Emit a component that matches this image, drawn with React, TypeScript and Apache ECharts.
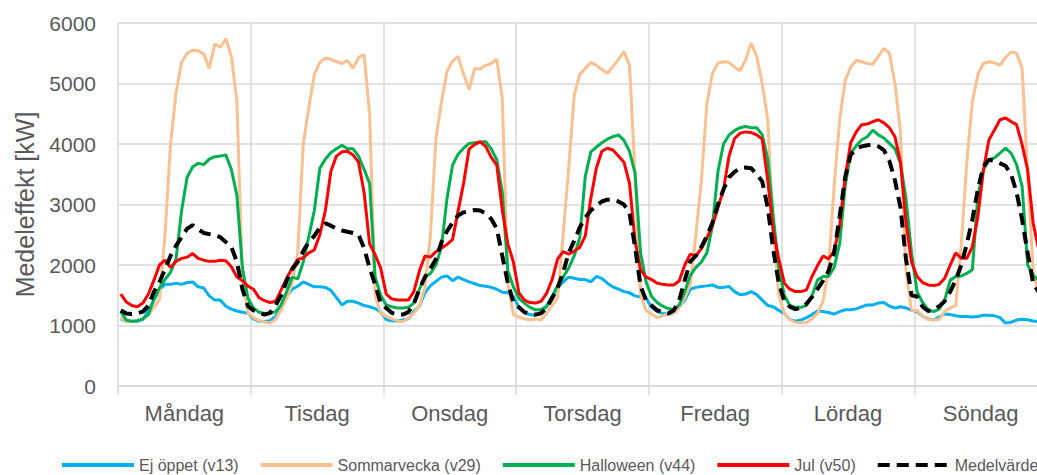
import React, { useEffect, useRef } from "react";
import * as echarts from "echarts";

const days = ["Måndag", "Tisdag", "Onsdag", "Torsdag", "Fredag", "Lördag", "Söndag"];
const yTicks = { min: 0, max: 6000, interval: 1000 };
const hoursPerDay = 24;

// Hourly mean power [kW], Monday 00 .. Sunday 23
const ejOppet = [
  1110, 1070, 1065, 1070, 1100, 1250, 1420, 1590, 1680, 1680, 1700, 1680, 1710, 1720, 1640, 1620, 1490, 1420, 1420, 1320, 1270, 1240, 1220, 1200,
  1110, 1070, 1065, 1080, 1150, 1310, 1480, 1600, 1650, 1720, 1680, 1640, 1640, 1630, 1580, 1460, 1340, 1400, 1400, 1370, 1330, 1310, 1280, 1220,
  1100, 1080, 1075, 1090, 1110, 1230, 1320, 1540, 1660, 1730, 1800, 1820, 1740, 1800, 1760, 1720, 1690, 1660, 1650, 1630, 1600, 1550, 1540, 1480,
  1300, 1210, 1180, 1170, 1220, 1310, 1480, 1620, 1720, 1800, 1780, 1760, 1760, 1720, 1810, 1780, 1700, 1640, 1600, 1560, 1540, 1490, 1470, 1450,
  1300, 1230, 1200, 1190, 1200, 1310, 1420, 1600, 1630, 1645, 1655, 1670, 1630, 1630, 1645, 1560, 1510, 1520, 1560, 1510, 1420, 1330, 1310, 1250,
  1200, 1100, 1070, 1090, 1130, 1180, 1240, 1230, 1215, 1190, 1230, 1260, 1260, 1275, 1310, 1340, 1340, 1370, 1380, 1320, 1290, 1310, 1290, 1250,
  1230, 1150, 1110, 1090, 1140, 1190, 1180, 1160, 1150, 1150, 1140, 1150, 1170, 1170, 1160, 1130, 1040, 1055, 1090, 1105, 1095, 1075, 1065, 1060,
];

const sommarvecka = [
  1130, 1065, 1070, 1080, 1110, 1180, 1300, 1430, 2500, 4000, 4850, 5350, 5500, 5550, 5540, 5490, 5250, 5650, 5600, 5740, 5450, 4700, 1800, 1200,
  1130, 1080, 1060, 1040, 1100, 1260, 1450, 1700, 2200, 4000, 4600, 5150, 5350, 5420, 5400, 5360, 5330, 5380, 5250, 5430, 5480, 4500, 1500, 1200,
  1150, 1110, 1080, 1060, 1120, 1200, 1330, 1620, 2500, 4100, 4700, 5200, 5370, 5450, 5150, 4900, 5250, 5240, 5300, 5330, 5400, 4750, 1700, 1180,
  1140, 1110, 1090, 1110, 1090, 1200, 1330, 1450, 2500, 3600, 4800, 5150, 5250, 5350, 5300, 5230, 5170, 5280, 5400, 5530, 5300, 3500, 1500, 1250,
  1190, 1130, 1160, 1190, 1200, 1300, 1460, 1680, 2500, 3400, 4670, 5170, 5340, 5360, 5350, 5270, 5210, 5390, 5670, 5450, 5000, 4400, 2600, 1500,
  1200, 1100, 1050, 1040, 1050, 1110, 1200, 1400, 1950, 3300, 4400, 5050, 5270, 5380, 5360, 5330, 5320, 5450, 5580, 5500, 5000, 4200, 1900, 1250,
  1250, 1150, 1100, 1090, 1100, 1230, 1290, 1330, 2350, 3700, 4700, 5150, 5330, 5360, 5340, 5300, 5430, 5520, 5500, 5250, 3500, 1900, 1500, 1250,
];

const halloween = [
  1230, 1090, 1070, 1080, 1110, 1180, 1440, 1620, 1760, 1880, 2100, 2900, 3450, 3620, 3680, 3660, 3750, 3790, 3800, 3820, 3580, 3150, 1950, 1450,
  1290, 1220, 1200, 1200, 1230, 1340, 1560, 1800, 1770, 2050, 2470, 2900, 3600, 3750, 3860, 3920, 3980, 3920, 3920, 3800, 3580, 3350, 1800, 1500,
  1340, 1310, 1290, 1290, 1300, 1370, 1600, 1800, 1860, 2000, 2300, 3100, 3650, 3830, 3930, 4010, 4020, 4030, 4040, 3920, 3740, 3200, 1900, 1640,
  1450, 1370, 1300, 1260, 1260, 1320, 1480, 1660, 1800, 1950, 2150, 2450, 3460, 3870, 3950, 4020, 4080, 4120, 4150, 4060, 3880, 3520, 2200, 1720,
  1480, 1380, 1320, 1280, 1265, 1340, 1560, 1830, 1960, 2050, 2200, 2650, 3550, 4000, 4150, 4220, 4270, 4290, 4270, 4270, 4150, 3750, 2800, 1950,
  1500, 1330, 1300, 1300, 1330, 1490, 1750, 1810, 1810, 1960, 2350, 3300, 3850, 3970, 4070, 4120, 4230, 4150, 4100, 4010, 3920, 3680, 3100, 2200,
  1560, 1380, 1260, 1230, 1270, 1420, 1750, 1810, 1820, 1860, 1920, 3150, 3570, 3740, 3770, 3850, 3930, 3850, 3660, 3300, 2000, 1830, 1750, 1650,
];

const jul = [
  1520, 1390, 1330, 1310, 1370, 1520, 1750, 2000, 2080, 1960, 2060, 2110, 2130, 2190, 2110, 2080, 2060, 2060, 2080, 2070, 1970, 1800, 1740, 1650,
  1600, 1460, 1410, 1380, 1400, 1590, 1780, 1950, 2090, 2120, 2200, 2250, 2500, 2900, 3550, 3800, 3870, 3880, 3820, 3700, 3200, 2350, 2170, 1950,
  1520, 1440, 1420, 1420, 1420, 1560, 1900, 2150, 2130, 2220, 2280, 2340, 2420, 2890, 3350, 3920, 3990, 4040, 3960, 3780, 3650, 2900, 2350, 2050,
  1540, 1420, 1380, 1370, 1400, 1530, 1760, 2100, 2220, 2180, 2230, 2290, 2480, 3100, 3600, 3880, 3930, 3900, 3800, 3700, 3350, 2400, 1920, 1800,
  1760, 1700, 1680, 1670, 1670, 1740, 2000, 2180, 2150, 2270, 2450, 2650, 2950, 3250, 3800, 4090, 4180, 4200, 4190, 4150, 4080, 3400, 2550, 2100,
  1700, 1600, 1560, 1560, 1590, 1810, 1990, 2150, 2100, 2230, 2650, 3450, 4020, 4200, 4320, 4330, 4370, 4400, 4350, 4270, 4120, 3700, 2700, 2050,
  1810, 1710, 1670, 1660, 1680, 1780, 2000, 2200, 2110, 2110, 2300, 2800, 3570, 4070, 4230, 4400, 4430, 4370, 4320, 3990, 3570, 2690, 2250, 2000,
];

const medelvarde = [
  1250, 1200, 1190, 1200, 1230, 1330, 1560, 1720, 1930, 2150, 2320, 2460, 2600, 2660, 2590, 2530, 2510, 2490, 2460, 2380, 2300, 2050, 1600, 1320,
  1250, 1210, 1180, 1210, 1330, 1500, 1740, 1930, 2050, 2230, 2380, 2480, 2620, 2690, 2650, 2600, 2570, 2550, 2530, 2500, 2280, 1950, 1680, 1370,
  1290, 1210, 1180, 1180, 1220, 1360, 1600, 1800, 1940, 2100, 2380, 2560, 2700, 2820, 2870, 2890, 2910, 2900, 2850, 2760, 2600, 2150, 1700, 1380,
  1300, 1220, 1190, 1180, 1200, 1290, 1450, 1620, 1880, 2200, 2400, 2620, 2780, 2900, 2980, 3050, 3080, 3080, 3050, 3000, 2860, 2300, 1650, 1420,
  1330, 1250, 1220, 1200, 1250, 1420, 1750, 2060, 2150, 2300, 2480, 2700, 3000, 3250, 3450, 3540, 3600, 3610, 3600, 3500, 3380, 2950, 2250, 1700,
  1400, 1310, 1270, 1290, 1360, 1470, 1600, 1740, 1900, 2200, 2800, 3450, 3820, 3920, 3960, 3980, 3990, 3960, 3900, 3720, 3400, 2950, 2100, 1500,
  1480, 1310, 1240, 1260, 1320, 1400, 1560, 1750, 2000, 2350, 2750, 3250, 3630, 3740, 3720, 3680, 3640, 3500, 3200, 2750, 2200, 1700, 1550, 1400,
];

const seriesDefs = [
  { name: "Ej öppet (v13)", values: ejOppet, color: "#00B0F0", width: 3, dash: "solid" as any },
  { name: "Sommarvecka (v29)", values: sommarvecka, color: "#FAC090", width: 3, dash: "solid" as any },
  { name: "Halloween (v44)", values: halloween, color: "#00B050", width: 3, dash: "solid" as any },
  { name: "Jul (v50)", values: jul, color: "#FF0000", width: 3, dash: "solid" as any },
  { name: "Medelvärde", values: medelvarde, color: "#000000", width: 4, dash: [12, 7] as any },
];

const FONT = "'Liberation Sans', Arial, sans-serif";
const GRID = "#d9d9d9";

export default function App() {
  const ref = useRef<HTMLDivElement>(null);

  useEffect(() => {
    if (!ref.current) return;
    const chart = echarts.init(ref.current, undefined, { renderer: "svg" });
    const totalHours = days.length * hoursPerDay;
    chart.setOption({
      animation: false,
      backgroundColor: "#ffffff",
      textStyle: { fontFamily: FONT },
      grid: { left: 118, right: 13, top: 23, bottom: 89, containLabel: false },
      legend: {
        left: 55,
        top: 452,
        itemWidth: 72,
        itemHeight: 14,
        itemGap: 20,
        itemStyle: { opacity: 0, borderWidth: 0 },
        lineStyle: { width: 4 },
        textStyle: { fontSize: 16, color: "#595959", fontFamily: FONT },
        data: seriesDefs.map((s) => s.name),
      },
      xAxis: [
        {
          type: "value",
          min: 0,
          max: totalHours,
          interval: hoursPerDay,
          axisLabel: { show: false },
          axisLine: { show: true, lineStyle: { color: GRID, width: 1.5 } },
          axisTick: { show: true, length: 9, lineStyle: { color: GRID, width: 1.5 } },
          splitLine: { show: true, lineStyle: { color: GRID, width: 1.5 } },
        },
        {
          type: "category",
          data: days,
          position: "bottom",
          boundaryGap: true,
          axisLine: { show: false },
          axisTick: { show: false },
          splitLine: { show: false },
          axisLabel: { fontSize: 22, color: "#595959", margin: 16, fontFamily: FONT },
        },
      ],
      yAxis: {
        type: "value",
        min: yTicks.min,
        max: yTicks.max,
        interval: yTicks.interval,
        name: "Medeleffekt [kW]",
        nameLocation: "middle",
        nameGap: 81,
        nameTextStyle: { fontSize: 25, color: "#595959", fontFamily: FONT },
        axisLine: { show: false },
        axisTick: { show: false },
        axisLabel: {
          fontSize: 21,
          color: "#595959",
          margin: 22,
          fontFamily: FONT,
          formatter: (v: number) => String(v),
        },
        splitLine: { lineStyle: { color: GRID, width: 1.5 } },
      },
      series: seriesDefs.map((s) => ({
        name: s.name,
        type: "line",
        xAxisIndex: 0,
        symbol: "none",
        smooth: false,
        color: s.color,
        lineStyle: { color: s.color, width: s.width, type: s.dash, cap: "butt" },
        data: s.values.map((v, i) => [i + 0.5, v]),
      })),
    });
    return () => chart.dispose();
  }, []);

  return (
    <div
      style={{
        position: "fixed",
        left: 0,
        top: 0,
        width: 1037,
        height: 475,
        overflow: "hidden",
        background: "#fff",
      }}
    >
      <div ref={ref} style={{ width: 1060, height: 475 }} />
    </div>
  );
}
